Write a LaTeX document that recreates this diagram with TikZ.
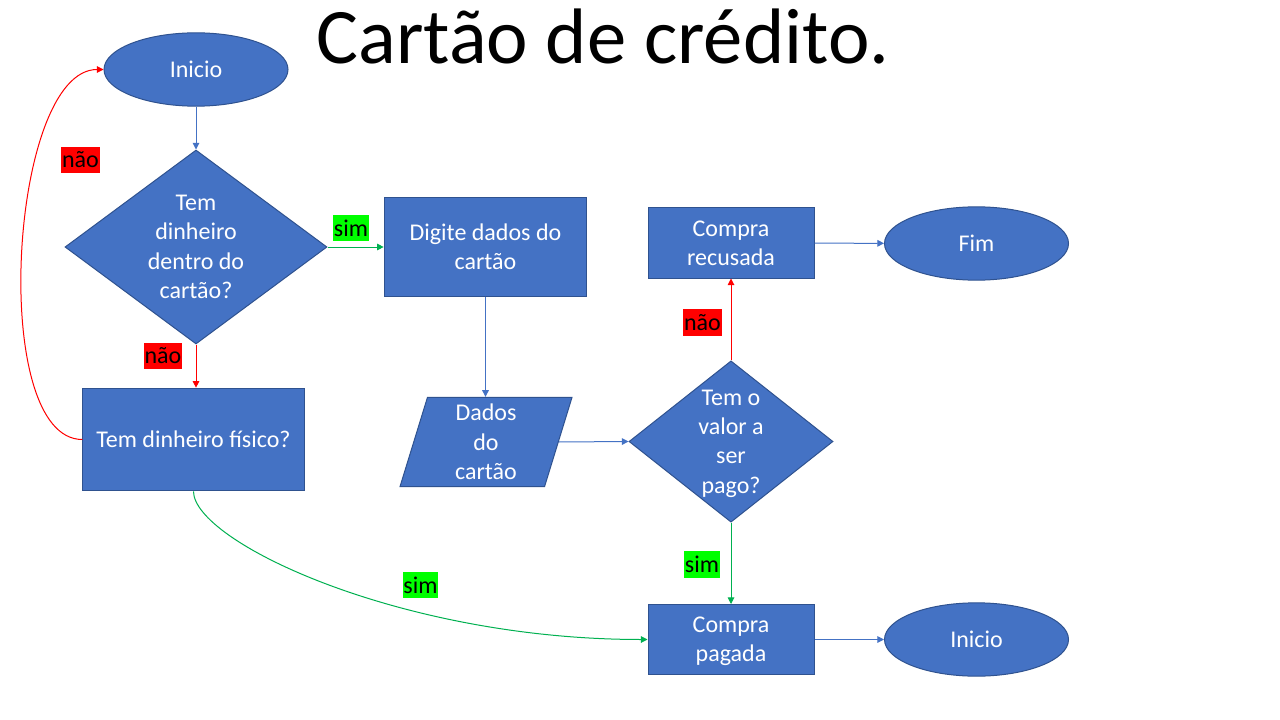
\documentclass[tikz,border=0pt]{standalone}
\usepackage{fontspec}
\setmainfont{Carlito}
\usetikzlibrary{shapes.geometric,arrows.meta}

\definecolor{flowblue}{HTML}{4472C4}
\definecolor{flowedge}{HTML}{2F528F}
\definecolor{yesline}{HTML}{00B050}
\definecolor{yesfill}{HTML}{00FF00}
\definecolor{nofill}{HTML}{FF0000}

\begin{document}
\begin{tikzpicture}[
    x=0.75pt, y=-0.75pt,
    every node/.style={font=\fontsize{18}{22}\selectfont},
    terminal/.style={ellipse, fill=flowblue, draw=flowedge, line width=0.75pt, text=white, minimum width=138pt, minimum height=55pt},
    process/.style={rectangle, fill=flowblue, draw=flowedge, line width=0.75pt, text=white, align=center, inner sep=0pt},
    decision/.style={diamond, fill=flowblue, draw=flowedge, line width=0.75pt, text=white, align=center, inner sep=0pt},
    data/.style={trapezium, trapezium left angle=70, trapezium right angle=110, trapezium stretches body, fill=flowblue, draw=flowedge, line width=0.75pt, text=white, align=center, inner sep=0pt},
    tagno/.style={fill=nofill, text=black, inner xsep=0.5pt, inner ysep=0pt, minimum height=20pt},
    tagsim/.style={fill=yesfill, text=black, inner xsep=0.5pt, inner ysep=0pt, minimum height=20pt},
    link/.style={line width=0.75pt, -{Triangle[length=5pt,width=5pt]}}
]
\useasboundingbox (0,0) rectangle (1280,720);

% Title
\node[font=\fontsize{59}{70}\selectfont] (title) at (603,36) {Cartão de crédito.};

% Left column
\node[terminal] (ini) at (196,69.5) {Inicio};
\node[decision, aspect=1.35, minimum width=196.5pt, minimum height=145.5pt] (cash) at (196,247) {Tem\\dinheiro\\dentro do\\cartão?};
\node[process, minimum width=166pt, minimum height=77pt] (phys) at (193.5,439.5) {Tem dinheiro físico?};

% Middle column
\node[process, minimum width=152pt, minimum height=73.5pt] (type) at (485.5,247) {Digite dados do\\cartão};
\node[data, minimum width=129pt, minimum height=67pt] (card) at (486,442) {Dados\\do\\cartão};

% Right columns
\node[process, minimum width=124.5pt, minimum height=52.5pt] (refused) at (731,243) {Compra\\recusada};
\node[decision, aspect=1.27, minimum width=153pt, minimum height=121pt] (value) at (731,441.5) {Tem o\\valor a\\ser\\\smash{pago?}};
\node[process, minimum width=124.5pt, minimum height=52.5pt] (paid) at (731,639.5) {Compra\\\smash{pagada}};
\node[terminal] (fim) at (976.5,243.5) {Fim};
\node[terminal] (ini2) at (976.5,639.5) {Inicio};

% Connectors
\draw[link, flowblue] (ini) -- (cash);
\draw[link, yesline] (cash.east) -- (type.west);
\draw[link, nofill] (cash.south) -- (cash.south |- phys.north);
\draw[link, nofill] (phys.west) to[out=180, in=180, looseness=0.65] (ini.west);
\draw[link, yesline] (phys.south) .. controls +(0,50) and +(-248,0) .. (paid.west);
\draw[link, flowblue] (type.south) -- (type.south |- card.north);
\draw[link, flowblue] (card.east) -- (value.west);
\draw[link, nofill] (value.north) -- (refused.south);
\draw[link, yesline] (value.south) -- (paid.north);
\draw[link, flowblue] (refused) -- (fim);
\draw[link, flowblue] (paid) -- (ini2);

% Answer tags
\node[tagno] (no1) at (80.5,160) {não};
\node[tagsim] (yes1) at (351,228) {sim};
\node[tagno] (no2) at (163,356) {não};
\node[tagno] (no3) at (702.5,322.5) {não};
\node[tagsim] (yes2) at (702,564.5) {sim};
\node[tagsim] (yes3) at (420.5,585) {sim};

\end{tikzpicture}
\end{document}
